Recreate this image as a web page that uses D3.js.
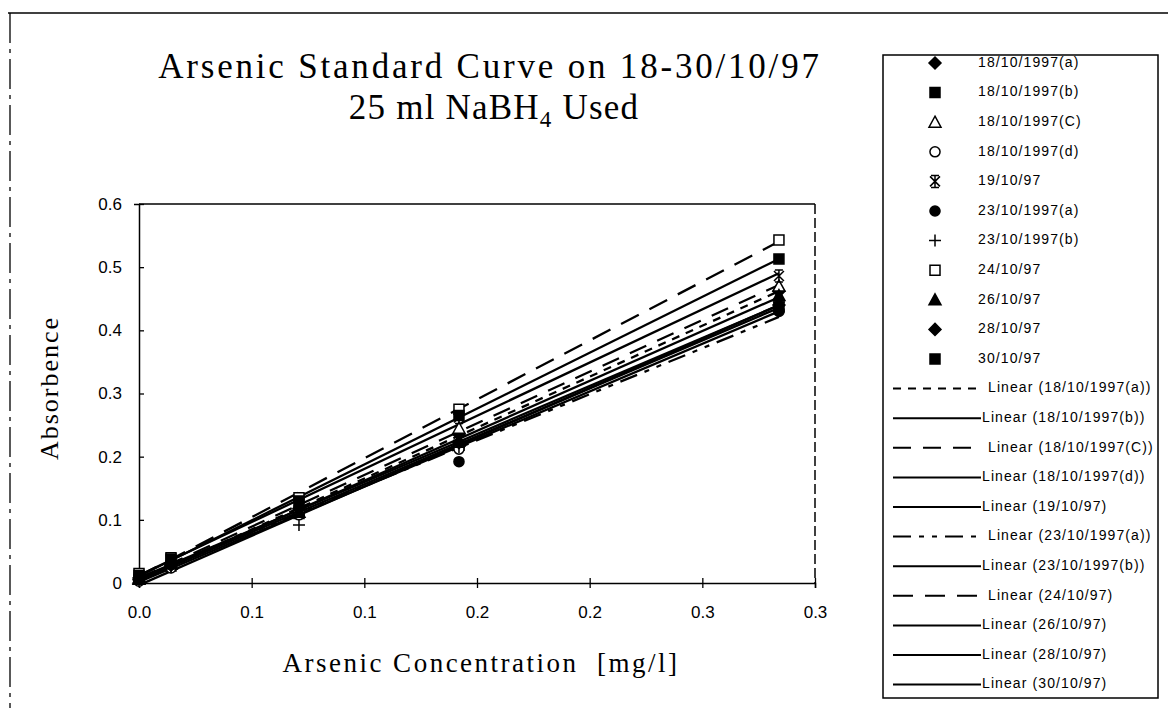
<!DOCTYPE html>
<html>
<head>
<meta charset="utf-8">
<script src="https://cdn.jsdelivr.net/npm/d3@7"></script>
<style>
  body { margin: 0; background: #fff; }
  svg { display: block; }
</style>
</head>
<body>
<div id="chart"></div>
<script>
// concentrations of the standards (mg/l)
var concentrations = [0, 0.0142, 0.071, 0.142, 0.284];

// absorbance readings per run
var run18a = [0.005, 0.028, 0.115, 0.235, 0.462];
var run18b = [0.006, 0.027, 0.110, 0.218, 0.437];
var run18c = [0.008, 0.030, 0.120, 0.245, 0.470];
var run18d = [0.003, 0.024, 0.108, 0.212, 0.432];
var run19 = [0.010, 0.036, 0.128, 0.262, 0.486];
var run23a = [0.010, 0.030, 0.120, 0.192, 0.430];
var run23b = [0.004, 0.025, 0.092, 0.215, 0.445];
var run24 = [0.015, 0.040, 0.135, 0.275, 0.543];
var run26 = [0.006, 0.030, 0.112, 0.225, 0.455];
var run28 = [0.008, 0.028, 0.118, 0.222, 0.440];
var run30 = [0.012, 0.038, 0.130, 0.265, 0.513];

var seriesNames = ["18/10/1997(a)", "18/10/1997(b)", "18/10/1997(C)", "18/10/1997(d)", "19/10/97",
    "23/10/1997(a)", "23/10/1997(b)", "24/10/97", "26/10/97", "28/10/97", "30/10/97"];
var seriesValues = [run18a, run18b, run18c, run18d, run19, run23a, run23b, run24, run26, run28, run30];

var xTicks = [0, 0.05, 0.1, 0.15, 0.2, 0.25, 0.3];
var xTickLabels = ["0.0", "0.1", "0.1", "0.2", "0.2", "0.3", "0.3"];
var yTicks = [0, 0.1, 0.2, 0.3, 0.4, 0.5, 0.6];
var yTickLabels = ["0", "0.1", "0.2", "0.3", "0.4", "0.5", "0.6"];

// styles
var markerTypes = ["diamond", "square", "triangleOpen", "circleOpen", "star", "circle", "plus",
    "squareOpen", "triangle", "diamond", "square"];
var dashTypes = ["8,7", null, "18,12", null, null, "18,8,5,8,5,8", null, "20,12", null, null, null];

var W = 1168, H = 708;
var plot = {left: 139, right: 815, top: 204, bottom: 583};

var svg = d3.select("#chart").append("svg")
    .attr("width", W)
    .attr("height", H);

var x = d3.scaleLinear().domain([0, 0.3]).range([plot.left, plot.right]);
var y = d3.scaleLinear().domain([0, 0.6]).range([plot.bottom, plot.top]);

function markerPath(type) {
    switch (type) {
        case "diamond": return "M0,-6L6,0L0,6L-6,0Z";
        case "square": case "squareOpen": return "M-5,-5L5,-5L5,5L-5,5Z";
        case "triangle": case "triangleOpen": return "M0,-6L6,5L-6,5Z";
        case "circle": case "circleOpen": return d3.symbol().type(d3.symbolCircle).size(80)();
        case "plus": return "M-6,0L6,0M0,-6L0,6";
        case "star": return "M-5,-5L5,5M-5,5L5,-5M0,-6L0,6M-4,-6L4,-6M-4,6L4,6";
    }
}
function markerFill(type) {
    if (type == "plus" || type == "star") return "none";
    if (type.indexOf("Open") > 0) return "#fff";
    return "#000";
}

// page frame (scanned page edges)
svg.append("line").attr("x1", 8).attr("x2", W).attr("y1", 13).attr("y2", 13)
    .attr("stroke", "#000").attr("stroke-width", 1.5);
svg.append("line").attr("x1", 10).attr("x2", 10).attr("y1", 13).attr("y2", H)
    .attr("stroke", "#000").attr("stroke-width", 1.3).attr("stroke-dasharray", "30,6,4,6");

// titles
svg.append("text")
    .attr("x", 490).attr("y", 78)
    .attr("text-anchor", "middle")
    .style("font-family", "Liberation Serif, serif")
    .style("font-size", "35px")
    .style("letter-spacing", "2.8px")
    .text("Arsenic Standard Curve on 18-30/10/97");

var sub = svg.append("text")
    .attr("x", 494).attr("y", 119)
    .attr("text-anchor", "middle")
    .style("font-family", "Liberation Serif, serif")
    .style("font-size", "35px")
    .style("letter-spacing", "1.2px");
sub.append("tspan").text("25 ml NaBH");
sub.append("tspan").attr("dy", 8).style("font-size", "23px").text("4");
sub.append("tspan").attr("dy", -8).text(" Used");

// plot frame
svg.append("line").attr("x1", plot.left).attr("x2", plot.right).attr("y1", plot.top).attr("y2", plot.top)
    .attr("stroke", "#000").attr("stroke-width", 1.5);
svg.append("line").attr("x1", plot.right).attr("x2", plot.right).attr("y1", plot.top).attr("y2", plot.bottom)
    .attr("stroke", "#000").attr("stroke-width", 1.5).attr("stroke-dasharray", "10,4");

// axes
var yAxis = svg.append("g")
    .attr("transform", "translate(" + plot.left + ",0)")
    .call(d3.axisLeft(y).tickValues(yTicks).tickSize(5).tickPadding(12)
        .tickFormat(function(d, i) { return yTickLabels[i]; }));
yAxis.selectAll(".tick line").attr("x2", 5);

var xAxis = svg.append("g")
    .attr("transform", "translate(0," + plot.bottom + ")")
    .call(d3.axisBottom(x).tickValues(xTicks).tickSize(5).tickPadding(18)
        .tickFormat(function(d, i) { return xTickLabels[i]; }));
xAxis.selectAll(".tick line").attr("y1", -5);

svg.selectAll(".domain").attr("stroke", "#000").attr("stroke-width", 1.5);
svg.selectAll(".tick line").attr("stroke", "#000").attr("stroke-width", 1.3);
svg.selectAll(".tick text")
    .attr("fill", "#000")
    .style("font-family", "Liberation Sans, Arial, sans-serif")
    .style("font-size", "17px");

// axis titles
svg.append("text")
    .attr("transform", "translate(58,388) rotate(-90)")
    .attr("text-anchor", "middle")
    .style("font-family", "Liberation Serif, serif")
    .style("font-size", "26px")
    .style("letter-spacing", "2px")
    .text("Absorbence");

svg.append("text")
    .attr("x", 481).attr("y", 672)
    .attr("text-anchor", "middle")
    .style("font-family", "Liberation Serif, serif")
    .style("font-size", "27px")
    .style("letter-spacing", "2.5px")
    .style("white-space", "pre")
    .text("Arsenic Concentration  [mg/l]");

// least squares trendline for each run
function fit(vals) {
    var mx = d3.mean(concentrations), my = d3.mean(vals);
    var sxy = d3.sum(concentrations, function(c, i) { return (c - mx) * (vals[i] - my); });
    var sxx = d3.sum(concentrations, function(c) { return (c - mx) * (c - mx); });
    var b = sxy / sxx;
    return {slope: b, intercept: my - b * mx};
}
var xEnds = d3.extent(concentrations);

var trends = svg.append("g");
seriesValues.forEach(function(vals, s) {
    var f = fit(vals);
    var pts = xEnds.map(function(c) { return [c, f.intercept + f.slope * c]; });
    trends.append("path")
        .datum(pts)
        .attr("d", d3.line().x(function(d) { return x(d[0]); }).y(function(d) { return y(d[1]); }))
        .attr("fill", "none")
        .attr("stroke", "#000")
        .attr("stroke-width", 2.3)
        .attr("stroke-dasharray", dashTypes[s]);
});

var marks = svg.append("g");
seriesValues.forEach(function(vals, s) {
    marks.selectAll(".m" + s)
        .data(vals)
        .enter().append("path")
        .attr("class", "m" + s)
        .attr("transform", function(d, i) { return "translate(" + x(concentrations[i]) + "," + y(d) + ")"; })
        .attr("d", markerPath(markerTypes[s]))
        .attr("fill", markerFill(markerTypes[s]))
        .attr("stroke", "#000")
        .attr("stroke-width", 1.5);
});

// legend
var lg = {left: 883, top: 55, right: 1158, bottom: 698, y0: 63, step: 29.6};
svg.append("rect")
    .attr("x", lg.left).attr("y", lg.top)
    .attr("width", lg.right - lg.left).attr("height", lg.bottom - lg.top)
    .attr("fill", "#fff").attr("stroke", "#000").attr("stroke-width", 1.5);

var legendFont = function(sel) {
    sel.style("font-family", "Liberation Sans, Arial, sans-serif")
        .style("font-size", "14px")
        .style("letter-spacing", "1.1px")
        .attr("dominant-baseline", "middle");
};

seriesNames.forEach(function(name, s) {
    var ly = lg.y0 + s * lg.step;
    svg.append("path")
        .attr("transform", "translate(935," + ly + ")")
        .attr("d", markerPath(markerTypes[s]))
        .attr("fill", markerFill(markerTypes[s]))
        .attr("stroke", "#000")
        .attr("stroke-width", 1.5);
    svg.append("text").attr("x", 978).attr("y", ly).call(legendFont).text(name);
});

seriesNames.forEach(function(name, s) {
    var ly = lg.y0 + (s + seriesNames.length) * lg.step;
    svg.append("line")
        .attr("x1", 893).attr("x2", 981).attr("y1", ly).attr("y2", ly)
        .attr("stroke", "#000").attr("stroke-width", 2)
        .attr("stroke-dasharray", dashTypes[s]);
    svg.append("text").attr("x", dashTypes[s] ? 988 : 982).attr("y", ly).call(legendFont)
        .text("Linear (" + name + ")");
});
</script>
</body>
</html>
